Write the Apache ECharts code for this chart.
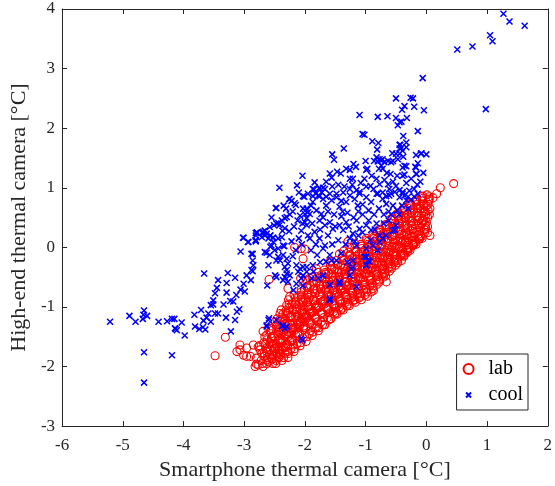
<!DOCTYPE html>
<html>
<head>
<meta charset="utf-8">
<script src="https://cdn.jsdelivr.net/npm/echarts@6/dist/echarts.min.js"></script>
<style>html,body{margin:0;padding:0;background:#fff}#c{width:555px;height:486px}</style>
</head>
<body>
<div id="c"></div>
<script>
const seriesNames = ['lab', 'cool'];
const xTicks = [-6, -5, -4, -3, -2, -1, 0, 1, 2];
const yTicks = [-3, -2, -1, 0, 1, 2, 3, 4];
const xTitle = 'Smartphone thermal camera [°C]';
const yTitle = 'High-end thermal camera [°C]';

const labPoints = [
[-3.48,-1.82],[-3.31,-1.51],[-2.59,-0.54],[-3.07,-1.64],[-3.12,-1.75],[-2.96,-1.83],[-2.80,-1.96],[-2.82,-2.00],
[-2.17,0.00],[-2.06,-0.02],[-2.00,-0.03],[-1.29,0.10],[-2.03,-0.19],[-2.07,-0.52],[-0.66,-0.58],[-0.69,-0.44],
[-0.36,-0.13],[-0.22,0.03],[-0.88,-0.69],[0.45,1.07],[0.23,1.00],[0.17,0.90],[0.11,0.83],[0.05,0.81],[0.06,0.20],
[-0.04,0.45],[-2.28,-0.69],[-2.03,-0.58],
[-3.07,-1.72],[-2.96,-1.69],[-2.85,-1.64],[-2.77,-1.67],[-2.90,-1.83],[-3.01,-1.81],
[-2.80,-1.86],[-2.77,-1.97],[-2.69,-2.00],[-2.63,-1.89],[-2.55,-1.86],[-2.44,-1.83],[-2.71,-1.78],[-2.63,-1.75],
[-2.49,-1.69],[-2.36,-1.67],[-2.28,-1.64],[-2.19,-1.64],[-2.28,-1.75],[-2.41,-1.75],
[-2.69,-1.41],[-2.63,-1.47],[-2.55,-1.36],[-2.47,-1.30],[-2.41,-1.11],[-2.30,-0.97],[-2.25,-0.83],[-2.28,-1.11],
[-2.36,-1.41],[-2.19,-1.36],[-2.08,-1.25],[-1.97,-1.14],[-1.92,-1.03],
[-2.74,-1.72],[-2.72,-1.90],[-2.68,-1.60],[-2.66,-1.83],[-2.70,-1.95],[-2.75,-1.65],[-2.64,-1.70],
[-2.62,-1.55],[-2.58,-1.80],[-2.56,-1.45],[-2.60,-1.92],[-2.54,-1.66],[-2.57,-1.60],[-2.61,-1.72],[-2.53,-1.87],[-2.59,-1.38],
[-2.52,-1.50],[-2.48,-1.78],[-2.46,-1.33],[-2.50,-1.62],[-2.44,-1.55],[-2.47,-1.90],[-2.51,-1.70],[-2.43,-1.42],[-2.49,-1.25],[-2.45,-1.68],
[-2.42,-1.38],[-2.38,-1.60],[-2.36,-1.20],[-2.40,-1.80],[-2.34,-1.48],[-2.37,-1.70],[-2.41,-1.55],[-2.33,-1.30],[-2.39,-1.05],[-2.35,-1.85],[-2.38,-1.45],
[-2.32,-1.20],[-2.28,-1.50],[-2.26,-0.95],[-2.30,-1.62],[-2.24,-1.35],[-2.27,-1.78],[-2.31,-1.10],[-2.23,-1.45],[-2.29,-1.28],[-2.25,-1.58],[-2.22,-1.15],[-2.27,-0.88],
[-2.21,-1.05],[-2.18,-1.40],[-2.16,-0.90],[-2.20,-1.55],[-2.14,-1.22],[-2.17,-1.70],[-2.19,-1.30],[-2.13,-1.00],[-2.15,-1.48],[-2.12,-1.15],[-2.18,-0.80],[-2.11,-1.35],
[-2.10,-0.95],[-2.08,-1.30],[-2.06,-0.80],[-2.09,-1.45],[-2.04,-1.10],[-2.07,-1.60],[-2.05,-1.20],[-2.03,-0.90],[-2.08,-1.05],[-2.02,-1.38],[-2.06,-0.70],[-2.01,-1.25],
[-2.00,-0.85],[-1.98,-1.15],[-1.96,-0.65],[-1.99,-1.35],[-1.94,-1.00],[-1.97,-1.50],[-1.95,-0.78],[-1.93,-1.22],[-1.98,-0.55],[-1.92,-1.08],[-1.96,-0.92],[-1.91,-1.40],
[-1.90,-0.80],[-1.88,-1.10],[-1.86,-0.60],[-1.89,-1.30],[-1.84,-0.95],[-1.87,-1.42],[-1.85,-0.70],[-1.83,-1.18],[-1.88,-0.50],[-1.82,-1.02],[-1.86,-0.88],[-1.81,-1.35],
[-1.80,-0.72],[-1.78,-1.02],[-1.76,-0.52],[-1.79,-1.25],[-1.74,-0.88],[-1.77,-1.35],[-1.75,-0.65],[-1.73,-1.10],[-1.78,-0.42],[-1.72,-0.95],[-1.76,-0.80],[-1.71,-1.30],
[-1.70,-0.65],[-1.68,-0.95],[-1.66,-0.45],[-1.69,-1.18],[-1.64,-0.80],[-1.67,-1.30],[-1.65,-0.58],[-1.63,-1.05],[-1.68,-0.38],[-1.62,-0.88],[-1.66,-0.72],[-1.61,-1.22],[-1.64,-1.00],
[-1.60,-0.58],[-1.58,-0.88],[-1.56,-0.38],[-1.59,-1.10],[-1.54,-0.72],[-1.57,-1.20],[-1.55,-0.50],[-1.53,-0.98],[-1.58,-0.30],[-1.52,-0.80],[-1.56,-0.65],[-1.51,-1.12],[-1.54,-0.90],
[-1.50,-0.50],[-1.48,-0.80],[-1.46,-0.30],[-1.49,-1.02],[-1.44,-0.65],[-1.47,-1.12],[-1.45,-0.42],[-1.43,-0.90],[-1.48,-0.22],[-1.42,-0.72],[-1.46,-0.58],[-1.41,-1.05],[-1.44,-0.82],
[-1.40,-0.42],[-1.38,-0.72],[-1.36,-0.22],[-1.39,-0.95],[-1.34,-0.58],[-1.37,-1.05],[-1.35,-0.35],[-1.33,-0.82],[-1.38,-0.15],[-1.32,-0.65],[-1.36,-0.50],[-1.31,-0.98],[-1.34,-0.75],
[-1.30,-0.35],[-1.28,-0.65],[-1.26,-0.15],[-1.29,-0.88],[-1.24,-0.50],[-1.27,-0.98],[-1.25,-0.28],[-1.23,-0.75],[-1.28,-0.08],[-1.22,-0.58],[-1.26,-0.42],[-1.21,-0.90],[-1.24,-0.68],
[-1.20,-0.28],[-1.18,-0.58],[-1.16,-0.08],[-1.19,-0.82],[-1.14,-0.43],[-1.17,-0.92],[-1.15,-0.20],[-1.13,-0.68],[-1.18,-0.02],[-1.12,-0.50],[-1.16,-0.35],[-1.11,-0.85],[-1.14,-0.62],
[-1.10,-0.22],[-1.08,-0.52],[-1.06,-0.02],[-1.09,-0.78],[-1.04,-0.38],[-1.07,-0.88],[-1.05,-0.15],[-1.03,-0.62],[-1.08,0.05],[-1.02,-0.45],[-1.06,-0.30],[-1.01,-0.80],[-1.04,-0.55],
[-1.00,-0.15],[-0.98,-0.45],[-0.96,0.05],[-0.99,-0.70],[-0.94,-0.32],[-0.97,-0.82],[-0.95,-0.08],[-0.93,-0.55],[-0.98,0.12],[-0.92,-0.38],[-0.96,-0.22],[-0.91,-0.75],[-0.94,-0.48],
[-0.90,-0.05],[-0.88,-0.35],[-0.86,0.15],[-0.89,-0.60],[-0.84,-0.22],[-0.87,-0.72],[-0.85,0.02],[-0.83,-0.45],[-0.88,0.20],[-0.82,-0.28],[-0.86,-0.12],[-0.81,-0.62],[-0.84,-0.38],
[-0.80,0.05],[-0.78,-0.25],[-0.76,0.25],[-0.79,-0.48],[-0.74,-0.12],[-0.77,-0.58],[-0.75,0.12],[-0.73,-0.35],[-0.78,0.30],[-0.72,-0.18],[-0.76,-0.02],[-0.71,-0.50],[-0.74,-0.28],
[-0.70,0.15],[-0.68,-0.15],[-0.66,0.35],[-0.69,-0.38],[-0.64,-0.02],[-0.67,-0.48],[-0.65,0.22],[-0.63,-0.25],[-0.68,0.38],[-0.62,-0.08],[-0.66,0.08],[-0.61,-0.40],[-0.64,-0.18],
[-0.60,0.25],[-0.58,-0.05],[-0.56,0.45],[-0.59,-0.28],[-0.54,0.08],[-0.57,-0.35],[-0.55,0.32],[-0.53,-0.15],[-0.58,0.48],[-0.52,0.02],[-0.56,0.18],[-0.51,-0.30],[-0.54,-0.08],
[-0.50,0.33],[-0.48,0.03],[-0.46,0.53],[-0.49,-0.20],[-0.44,0.16],[-0.47,-0.26],[-0.45,0.40],[-0.43,-0.07],[-0.48,0.56],[-0.42,0.10],[-0.46,0.26],[-0.41,-0.22],[-0.44,0.00],
[-0.40,0.42],[-0.38,0.12],[-0.36,0.62],[-0.39,-0.10],[-0.34,0.26],[-0.37,-0.15],[-0.35,0.50],[-0.33,0.03],[-0.38,0.65],[-0.32,0.20],[-0.36,0.35],[-0.31,-0.08],[-0.34,0.08],
[-0.30,0.50],[-0.28,0.22],[-0.26,0.70],[-0.29,0.00],[-0.24,0.36],[-0.27,-0.05],[-0.25,0.58],[-0.23,0.12],[-0.28,0.72],[-0.22,0.30],[-0.26,0.44],[-0.21,0.05],[-0.24,0.18],
[-0.20,0.58],[-0.18,0.32],[-0.16,0.76],[-0.19,0.10],[-0.14,0.45],[-0.17,0.05],[-0.15,0.66],[-0.13,0.22],[-0.18,0.78],[-0.12,0.38],[-0.16,0.52],[-0.11,0.15],
[-0.10,0.65],[-0.08,0.40],[-0.06,0.82],[-0.09,0.20],[-0.04,0.52],[-0.07,0.15],[-0.05,0.72],[-0.03,0.30],[-0.08,0.85],[-0.02,0.60],[-0.06,0.45],
[0.00,0.70],[0.02,0.50],[0.01,0.88],[-0.01,0.32],[0.03,0.62],[0.02,0.25],[0.04,0.78],[0.00,0.42]
];

const labPointsMore = [
[-2.65,-1.62],[-2.67,-1.78],[-2.63,-1.95],[-2.66,-1.50],[-2.62,-1.85],
[-2.55,-1.52],[-2.57,-1.72],[-2.53,-1.95],[-2.56,-1.40],[-2.52,-1.80],[-2.54,-1.62],
[-2.45,-1.45],[-2.47,-1.62],[-2.43,-1.85],[-2.46,-1.20],[-2.42,-1.72],[-2.44,-1.35],[-2.48,-1.95],
[-2.35,-1.38],[-2.37,-1.55],[-2.33,-1.78],[-2.36,-1.12],[-2.32,-1.65],[-2.34,-1.25],[-2.38,-1.90],[-2.31,-1.45],
[-2.25,-1.28],[-2.27,-1.42],[-2.23,-1.70],[-2.26,-1.02],[-2.22,-1.55],[-2.24,-1.18],[-2.28,-1.85],[-2.21,-1.38],
[-2.15,-1.18],[-2.17,-1.35],[-2.13,-1.62],[-2.16,-0.95],[-2.12,-1.45],[-2.14,-1.08],[-2.18,-1.75],[-2.11,-1.28],[-2.16,-0.85],
[-2.05,-1.08],[-2.07,-1.25],[-2.03,-1.52],[-2.06,-0.88],[-2.02,-1.35],[-2.04,-0.98],[-2.08,-1.65],[-2.01,-1.18],[-2.06,-0.75],
[-1.95,-0.98],[-1.97,-1.18],[-1.93,-1.45],[-1.96,-0.80],[-1.92,-1.28],[-1.94,-0.88],[-1.98,-1.58],[-1.91,-1.10],[-1.96,-0.68],
[-1.85,-0.88],[-1.87,-1.08],[-1.83,-1.35],[-1.86,-0.70],[-1.82,-1.20],[-1.84,-0.78],[-1.88,-1.48],[-1.81,-0.98],[-1.86,-0.58],
[-1.75,-0.80],[-1.77,-1.00],[-1.73,-1.25],[-1.76,-0.62],[-1.72,-1.12],[-1.74,-0.70],[-1.78,-1.40],[-1.71,-0.90],[-1.76,-0.50],
[-1.65,-0.70],[-1.67,-0.90],[-1.63,-1.18],[-1.66,-0.52],[-1.62,-1.02],[-1.64,-0.62],[-1.68,-1.30],[-1.61,-0.80],[-1.66,-0.42],
[-1.55,-0.62],[-1.57,-0.82],[-1.53,-1.08],[-1.56,-0.45],[-1.52,-0.95],[-1.54,-0.55],[-1.58,-1.20],[-1.51,-0.72],[-1.56,-0.35],
[-1.45,-0.55],[-1.47,-0.75],[-1.43,-1.00],[-1.46,-0.38],[-1.42,-0.88],[-1.44,-0.48],[-1.48,-1.10],[-1.41,-0.65],[-1.46,-0.28],
[-1.35,-0.45],[-1.37,-0.68],[-1.33,-0.92],[-1.36,-0.30],[-1.32,-0.80],[-1.34,-0.40],[-1.38,-1.02],[-1.31,-0.58],[-1.36,-0.20],
[-1.25,-0.38],[-1.27,-0.60],[-1.23,-0.85],[-1.26,-0.22],[-1.22,-0.72],[-1.24,-0.32],[-1.28,-0.95],[-1.21,-0.50],[-1.26,-0.12],
[-1.15,-0.32],[-1.17,-0.52],[-1.13,-0.78],[-1.16,-0.15],[-1.12,-0.65],[-1.14,-0.25],[-1.18,-0.88],[-1.11,-0.42],[-1.16,-0.05],
[-1.05,-0.25],[-1.07,-0.45],[-1.03,-0.72],[-1.06,-0.08],[-1.02,-0.58],[-1.04,-0.18],[-1.08,-0.82],[-1.01,-0.35],[-1.06,0.02],
[-0.95,-0.15],[-0.97,-0.38],[-0.93,-0.65],[-0.96,0.00],[-0.92,-0.50],[-0.94,-0.08],[-0.98,-0.75],[-0.91,-0.28],[-0.96,0.10],
[-0.85,-0.05],[-0.87,-0.28],[-0.83,-0.55],[-0.86,0.10],[-0.82,-0.40],[-0.84,0.02],[-0.88,-0.65],[-0.81,-0.18],[-0.86,0.18],
[-0.75,0.05],[-0.77,-0.18],[-0.73,-0.45],[-0.76,0.20],[-0.72,-0.30],[-0.74,0.12],[-0.78,-0.55],[-0.71,-0.08],[-0.76,0.28],
[-0.65,0.15],[-0.67,-0.08],[-0.63,-0.35],[-0.66,0.30],[-0.62,-0.20],[-0.64,0.22],[-0.68,-0.42],[-0.61,0.02],[-0.66,0.38],
[-0.55,0.22],[-0.57,0.00],[-0.53,-0.25],[-0.56,0.40],[-0.52,-0.10],[-0.54,0.30],[-0.58,-0.32],[-0.51,0.12],[-0.56,0.48],
[-0.45,0.32],[-0.47,0.10],[-0.43,-0.15],[-0.46,0.50],[-0.42,0.00],[-0.44,0.40],[-0.48,-0.22],[-0.41,0.22],[-0.46,0.58],
[-0.35,0.42],[-0.37,0.20],[-0.33,-0.05],[-0.36,0.58],[-0.32,0.10],[-0.34,0.50],[-0.38,-0.12],[-0.31,0.32],[-0.36,0.66],
[-0.25,0.50],[-0.27,0.28],[-0.23,0.05],[-0.26,0.66],[-0.22,0.18],[-0.24,0.58],[-0.28,-0.02],[-0.21,0.40],[-0.26,0.74],
[-0.15,0.58],[-0.17,0.38],[-0.13,0.15],[-0.16,0.72],[-0.12,0.28],[-0.14,0.65],[-0.18,0.08],[-0.11,0.48],[-0.16,0.80],
[-0.05,0.62],[-0.07,0.45],[-0.03,0.25],[-0.06,0.78],[-0.02,0.38],[-0.04,0.70],[-0.08,0.18],[-0.01,0.55],[-0.06,0.86],
[0.03,0.72],[0.05,0.55],[0.02,0.35],[0.04,0.85],[0.06,0.65]
];

const labPointsCore = [
[-2.42,-1.78],[-2.40,-1.60],[-2.43,-1.40],[-2.41,-1.22],
[-2.32,-1.68],[-2.30,-1.46],[-2.33,-1.28],[-2.31,-1.06],
[-2.22,-1.56],[-2.20,-1.36],[-2.23,-1.16],[-2.21,-0.96],
[-2.12,-1.44],[-2.10,-1.24],[-2.13,-1.04],[-2.11,-0.84],
[-2.02,-1.32],[-2.00,-1.12],[-2.03,-0.92],[-2.01,-0.72],
[-1.92,-1.24],[-1.90,-1.04],[-1.93,-0.84],[-1.91,-0.64],
[-1.82,-1.17],[-1.80,-0.97],[-1.83,-0.77],[-1.81,-0.57],
[-1.72,-1.10],[-1.70,-0.90],[-1.73,-0.70],[-1.71,-0.50],
[-1.62,-1.03],[-1.60,-0.83],[-1.63,-0.63],[-1.61,-0.43],
[-1.52,-0.96],[-1.50,-0.76],[-1.53,-0.56],[-1.51,-0.36],
[-1.42,-0.90],[-1.40,-0.70],[-1.43,-0.50],[-1.41,-0.30],
[-1.32,-0.84],[-1.30,-0.64],[-1.33,-0.44],[-1.31,-0.24],
[-1.22,-0.77],[-1.20,-0.57],[-1.23,-0.37],[-1.21,-0.17],
[-1.12,-0.71],[-1.10,-0.51],[-1.13,-0.31],[-1.11,-0.11],
[-1.02,-0.64],[-1.00,-0.44],[-1.03,-0.24],[-1.01,-0.04],
[-0.92,-0.55],[-0.90,-0.35],[-0.93,-0.15],[-0.91,0.05],
[-0.82,-0.46],[-0.80,-0.26],[-0.83,-0.06],[-0.81,0.14],
[-0.72,-0.37],[-0.70,-0.17],[-0.73,0.03],[-0.71,0.23],
[-0.62,-0.28],[-0.60,-0.08],[-0.63,0.12],[-0.61,0.32],
[-0.52,-0.20],[-0.50,0.00],[-0.53,0.20],[-0.51,0.40],
[-0.42,-0.12],[-0.40,0.08],[-0.43,0.28],[-0.41,0.48],
[-0.32,-0.04],[-0.30,0.16],[-0.33,0.36],[-0.31,0.56],
[-0.22,0.04],[-0.20,0.24],[-0.23,0.44],[-0.21,0.64],
[-0.12,0.14],[-0.10,0.32],[-0.13,0.52],[-0.11,0.70],
[-1.43,-0.11],[-1.26,0.00],[-1.36,-0.06],[-1.18,0.06],[-0.99,0.15],[-0.82,0.26],[-1.59,-0.24],[-1.81,-0.36],[-1.92,-0.52]
];

const coolPoints = [
[1.27,3.92],[1.37,3.79],[1.62,3.72],[1.05,3.56],[1.09,3.46],[0.51,3.32],[0.76,3.37],[0.98,2.32],[-0.06,2.84],
[-0.50,2.50],[-0.26,2.51],[-0.22,2.50],[-0.36,2.37],[-0.40,2.31],[-0.20,2.36],[-0.04,2.30],
[-1.10,2.22],[-0.80,2.19],[-0.64,2.20],[-0.50,2.17],[-0.47,2.05],[-0.41,2.11],[-0.32,2.17],[-0.44,2.10],
[-0.14,1.95],[-1.02,1.89],[-0.38,1.87],[-1.05,1.90],
[-0.89,1.78],[-0.79,1.75],[-0.81,1.64],[-1.36,1.66],[-1.55,1.56],[-1.52,1.47],
[-0.44,1.72],[-0.41,1.67],[-0.33,1.68],[-0.56,1.58],[-0.50,1.57],
[-0.17,1.55],[-0.08,1.58],[0.00,1.56],[-0.14,1.41],[-0.18,1.35],[-0.16,1.23],[-0.05,1.25],
[-0.38,1.52],[-0.36,1.37],[-0.36,1.22],
[-0.86,1.45],[-0.80,1.44],[-0.74,1.46],[-0.69,1.43],[-0.63,1.45],[-0.58,1.43],
[-1.16,1.35],[-1.32,1.32],[-1.26,1.30],[-1.41,1.24],[-1.47,1.27],[-1.56,1.17],[-1.59,1.24],
[-0.97,1.32],[-0.99,1.30],[-2.04,1.20],[-0.59,1.23],
[-2.42,1.00],[-2.13,1.04],[-1.84,1.09],[-1.85,0.97],[-1.76,1.00],[-1.70,1.00],
[-2.01,0.85],[-2.25,0.81],[-2.17,0.74],[-2.22,0.78],[-2.15,0.71],[-2.48,0.66],[-2.31,0.65],
[-1.26,1.15],[-1.21,1.15],[-0.82,1.51],[-0.77,1.48],[-0.72,1.48],[-0.74,1.37],[-0.78,1.32],[-0.72,1.32],
[-0.55,1.45],[-0.47,1.48],[-0.44,1.57],[-0.39,1.62],[-0.39,1.20],[-0.39,1.34],[-0.33,1.36],
[-0.09,1.57],[-0.17,1.34],[-0.17,1.23],[-0.33,1.76],[-0.43,1.72],[-0.44,1.66],
[-1.87,0.98],[-1.76,0.99],[-1.67,0.98],[-1.95,0.90],[-1.82,0.90],[-1.72,0.92],[-1.59,0.90],[-1.48,0.90],[-1.37,0.92],
[-1.26,0.98],[-1.15,0.96],[-1.10,0.90],[-1.02,1.15],[-0.99,1.02],[-0.82,1.15],[-0.77,1.06],[-0.69,1.13],[-0.63,1.06],
[-0.61,0.98],[-0.55,1.10],[-0.50,1.03],[-0.44,0.96],[-0.39,0.90],[-0.33,1.08],[-0.20,0.98],[-0.14,0.90],[-0.80,0.90],
[-0.72,0.92],[-0.66,0.86],[-0.58,0.90],[-0.36,0.87],[-0.30,0.85],[-2.03,0.86],[-1.87,0.86],[-1.76,0.86],
[-2.26,0.81],[-2.47,0.66],[-2.33,0.49],[-2.25,0.55],[-2.30,0.51],[-1.97,0.65],[-2.00,0.56],[-1.95,0.59],[-1.97,0.49],[-2.08,0.53],
[-2.38,0.45],[-2.44,0.41],[-2.47,0.40],[-2.42,0.37],[-2.51,0.37],[-2.58,0.34],[-2.33,0.32],[-2.37,0.28],[-2.26,0.27],[-2.04,0.40],[-1.97,0.37],[-2.06,0.28],
[-2.81,0.24],[-2.69,0.23],[-2.66,0.20],[-2.71,0.17],[-3.02,0.16],[-2.94,0.09],[-2.81,0.10],[-2.60,0.15],[-2.53,0.16],[-2.44,0.15],[-2.38,0.17],[-2.55,0.03],[-2.34,0.02],
[-2.79,0.25],[-2.66,0.28],[-2.57,0.20],[-2.81,0.12],
[-2.03,0.65],[-1.92,0.56],[-2.00,0.42],[-1.87,0.76],[-1.78,0.87],[-1.70,0.81],[-1.65,0.70],[-1.56,0.79],[-1.48,0.84],[-1.43,0.68],
[-1.32,0.76],[-1.26,0.87],[-1.18,0.81],[-1.13,0.70],[-1.10,0.93],[-0.99,0.84],[-0.91,0.76],[-0.82,0.90],[-0.72,0.81],[-0.66,0.73],
[-0.61,0.87],[-0.52,0.93],[-0.44,0.84],[-0.39,0.93],[-0.33,0.79],[-0.28,0.95],[-1.76,0.45],[-1.67,0.37],[-1.59,0.42],[-1.54,0.31],
[-1.43,0.37],[-1.37,0.29],[-1.32,0.42],[-1.21,0.23],[-1.10,0.31],[-0.99,0.37],[-0.91,0.29],[-0.82,0.40],[-1.84,0.26],[-1.92,0.15],
[-1.76,0.15],[-1.67,0.03],[-1.80,-0.13],[-1.87,-0.30],[-1.70,-0.47],[-1.59,-0.13],[-1.48,-0.22],[-1.26,0.15],[-1.15,0.03],[-1.21,-0.22],
[-0.99,-0.02],[-0.88,0.03],[-0.80,-0.05],[-0.99,-0.30],[-1.26,-0.47],[-1.43,-0.58],[-1.59,-0.63],[-1.59,-0.86],[-1.15,-0.66],[-0.77,0.20],
[-0.66,0.20],[-0.50,0.37],[-0.52,0.29],[-0.99,-0.16],[-1.24,-0.36],[-1.78,-0.52],[-1.97,-0.33],[-2.03,-0.47],
[-1.90,0.70],[-1.81,0.62],[-1.73,0.56],[-1.62,0.60],[-1.52,0.55],[-1.40,0.52],[-1.30,0.58],[-1.20,0.50],[-1.12,0.60],[-1.05,0.55],
[-0.95,0.62],[-0.86,0.55],[-0.78,0.65],[-0.70,0.55],[-0.62,0.60],[-0.55,0.70],[-0.48,0.62],[-1.35,1.02],[-1.22,1.05],[-1.08,1.08],
[-0.92,1.03],[-0.87,0.98],[-1.45,1.05],[-1.55,1.02],[-1.65,1.10],[-1.40,0.78],[-1.05,0.72],[-0.95,0.45],[-0.70,0.40],[-1.15,0.45],
[-1.59,-0.89],[-1.43,-0.61],[-0.99,-0.30],[-0.96,-0.22],[-1.02,-0.16],[-0.94,-0.24],[-1.21,-0.33],[-0.77,0.09],[-0.72,0.15],[-0.55,0.28],
[-1.70,-0.02],[-1.65,-0.24],[-1.56,-0.22],[-1.89,-0.52],[-1.86,-0.41],[-2.30,-0.38],
[-2.20,0.60],[-2.12,0.45],[-2.18,0.35],[-2.10,0.15],[-2.22,0.10],[-2.15,-0.05],[-2.05,0.05],[-1.95,0.20],[-1.88,0.40],[-1.82,0.05],
[-1.75,0.30],[-1.70,0.50],[-1.62,0.20],[-1.55,0.05],[-1.50,0.35],[-1.45,0.12],[-1.38,0.60],[-1.33,0.05],[-1.28,0.35],[-1.18,0.10],
[-1.12,0.20],[-1.05,0.25],[-0.92,0.12],[-0.85,0.30],[-0.62,0.45],[-0.58,0.55],[-0.45,0.55],[-0.40,0.70],[-0.30,0.65],[-0.25,0.80],
[-0.20,0.85],[-0.15,1.05],[-0.10,1.10],[-0.25,1.15],[-0.48,1.20],[-0.65,1.25],[-0.90,1.20],[-1.00,1.45],[-1.20,1.40],[-1.65,0.85],
[-2.10,0.92],[-2.35,0.70],[-2.55,0.50],[-2.60,-0.30],[-2.50,-0.05],[-2.20,-0.15],[-1.90,-0.05],[-1.75,-0.25],[-1.40,-0.10],[-1.30,-0.25],
[-5.21,-1.25],[-4.89,-1.15],[-4.79,-1.25],[-4.65,-1.06],[-4.66,-1.13],[-4.60,-1.15],[-4.67,-1.20],[-4.65,-1.76],[-4.65,-2.27],
[-4.41,-1.25],[-4.27,-1.24],[-4.19,-1.20],[-4.15,-1.20],[-4.14,-1.36],[-4.11,-1.39],[-4.13,-1.37],[-4.03,-1.26],[-3.98,-1.48],
[-4.19,-1.81],[-3.82,-1.13],[-3.81,-1.33],[-3.74,-1.37],[-3.68,-1.34],[-3.64,-1.38],[-3.71,-1.05],[-3.67,-1.23],[-3.66,-0.44],
[-3.62,-1.18],[-3.59,-1.11],[-3.55,-0.97],[-3.51,-0.96],[-3.55,-1.25],[-3.48,-0.77],[-3.51,-0.89],[-3.45,-0.68],[-3.43,-0.55],
[-3.48,-1.11],[-3.43,-1.11],[-3.34,-0.96],[-3.29,-0.76],[-3.27,-0.43],[-3.29,-0.60],[-3.30,-1.18],[-3.23,-0.90],[-3.22,-1.41],
[-3.18,-0.91],[-3.15,-0.51],[-3.15,-1.22],[-3.12,-1.08],[-3.08,-1.04],[-3.13,-0.80],[-3.06,-0.71],[-3.06,-0.07],[-3.01,-0.61],
[-2.99,-0.74],[-2.96,-0.47],[-2.93,0.09],[-3.01,0.16],[-2.89,-0.55],[-2.86,-0.11],[-2.86,-0.22],[-2.85,-0.30],[-2.86,-0.40],
[-2.81,0.20],[-2.81,0.12],[-2.79,0.25],[-2.69,0.26],[-2.66,0.28],[-2.63,0.23],[-2.57,0.20],[-2.66,-0.08],[-2.63,-0.09],
[-2.58,-0.13],[-2.62,-0.64],[-2.63,-1.33],[-2.59,-1.19],[-2.57,0.01],[-2.52,0.09],[-2.52,0.16],[-2.47,-0.22],[-2.44,-0.02],
[-2.88,-0.11],[-2.88,-0.38],[-2.44,-0.16],[-2.36,-0.13],[-2.41,-0.22],[-2.30,-0.19],[-2.36,0.03],[-2.28,-0.27],[-2.33,-0.33],
[-2.14,-0.30],[-2.08,-0.36],[-2.03,-0.33],[-1.97,-0.41],[-2.30,-0.44],[-2.33,-0.50],[-2.25,-0.47],[-2.36,-0.55],[-2.28,-0.58],
[-2.49,-0.47],[-2.47,-0.50],[-2.11,-0.41],[-2.06,-0.52],[-2.14,-0.61],[-2.03,-0.64],[-2.60,-1.22],[-2.63,-1.31],[-2.47,-1.22],
[-2.36,-1.31],[-2.33,-1.36],[-2.30,-1.33],[-2.06,-1.53],[-2.38,-1.32],[-2.19,-0.72],[-2.04,-1.56]
];

const FONT = 'Liberation Serif';
const AX = '#262626';
const chart = echarts.init(document.getElementById('c'), null, {renderer: 'canvas'});

function xAx(pos, showLabel) {
  return {
    type: 'value', position: pos, min: xTicks[0], max: xTicks[xTicks.length - 1], interval: 1,
    axisLine: {show: true, onZero: false, lineStyle: {color: AX, width: 1}},
    axisTick: {show: true, inside: true, length: 5, lineStyle: {color: AX, width: 1}},
    splitLine: {show: false},
    axisLabel: {show: showLabel, fontFamily: FONT, fontSize: 17, color: AX, margin: 11},
    name: showLabel ? xTitle : '', nameLocation: 'middle', nameGap: 31,
    nameTextStyle: {fontFamily: FONT, fontSize: 22, color: AX}
  };
}
function yAx(pos, showLabel) {
  return {
    type: 'value', position: pos, min: yTicks[0], max: yTicks[yTicks.length - 1], interval: 1,
    axisLine: {show: true, onZero: false, lineStyle: {color: AX, width: 1}},
    axisTick: {show: true, inside: true, length: 5, lineStyle: {color: AX, width: 1}},
    splitLine: {show: false},
    axisLabel: {show: showLabel, fontFamily: FONT, fontSize: 17, color: AX, margin: 7},
    name: showLabel ? yTitle : '', nameLocation: 'middle', nameGap: 27,
    nameTextStyle: {fontFamily: FONT, fontSize: 22, color: AX}
  };
}

chart.setOption({
  animation: false,
  backgroundColor: '#fff',
  grid: {left: 62, right: 6, top: 9, bottom: 58},
  xAxis: [xAx('bottom', true), xAx('top', false)],
  yAxis: [yAx('left', true), yAx('right', false)],
  legend: {
    orient: 'vertical', right: 27, top: 354,
    padding: [5, 5, 5, 6], itemGap: 6, itemWidth: 30, itemHeight: 10,
    borderColor: AX, borderWidth: 1, backgroundColor: '#fff',
    textStyle: {fontFamily: FONT, fontSize: 20, color: '#000'},
    data: [
      {name: seriesNames[0]},
      {name: seriesNames[1], icon: 'path://M0,0M3,3L9,9M9,3L3,9M12,12'}
    ]
  },
  series: [
    {
      name: seriesNames[0], type: 'scatter', xAxisIndex: 0, yAxisIndex: 0,
      symbol: 'circle', symbolSize: 8,
      itemStyle: {color: 'rgba(0,0,0,0)', borderColor: '#ff0000', borderWidth: 1.1, opacity: 1},
      data: labPoints.concat(labPointsMore, labPointsCore)
    },
    {
      name: seriesNames[1], type: 'scatter', xAxisIndex: 0, yAxisIndex: 0,
      symbol: 'path://M0,0L10,10M10,0L0,10', symbolSize: 6,
      itemStyle: {color: 'rgba(0,0,0,0)', borderColor: '#0000ff', borderWidth: 1.5, opacity: 1},
      data: coolPoints
    }
  ]
});
</script>
</body>
</html>
